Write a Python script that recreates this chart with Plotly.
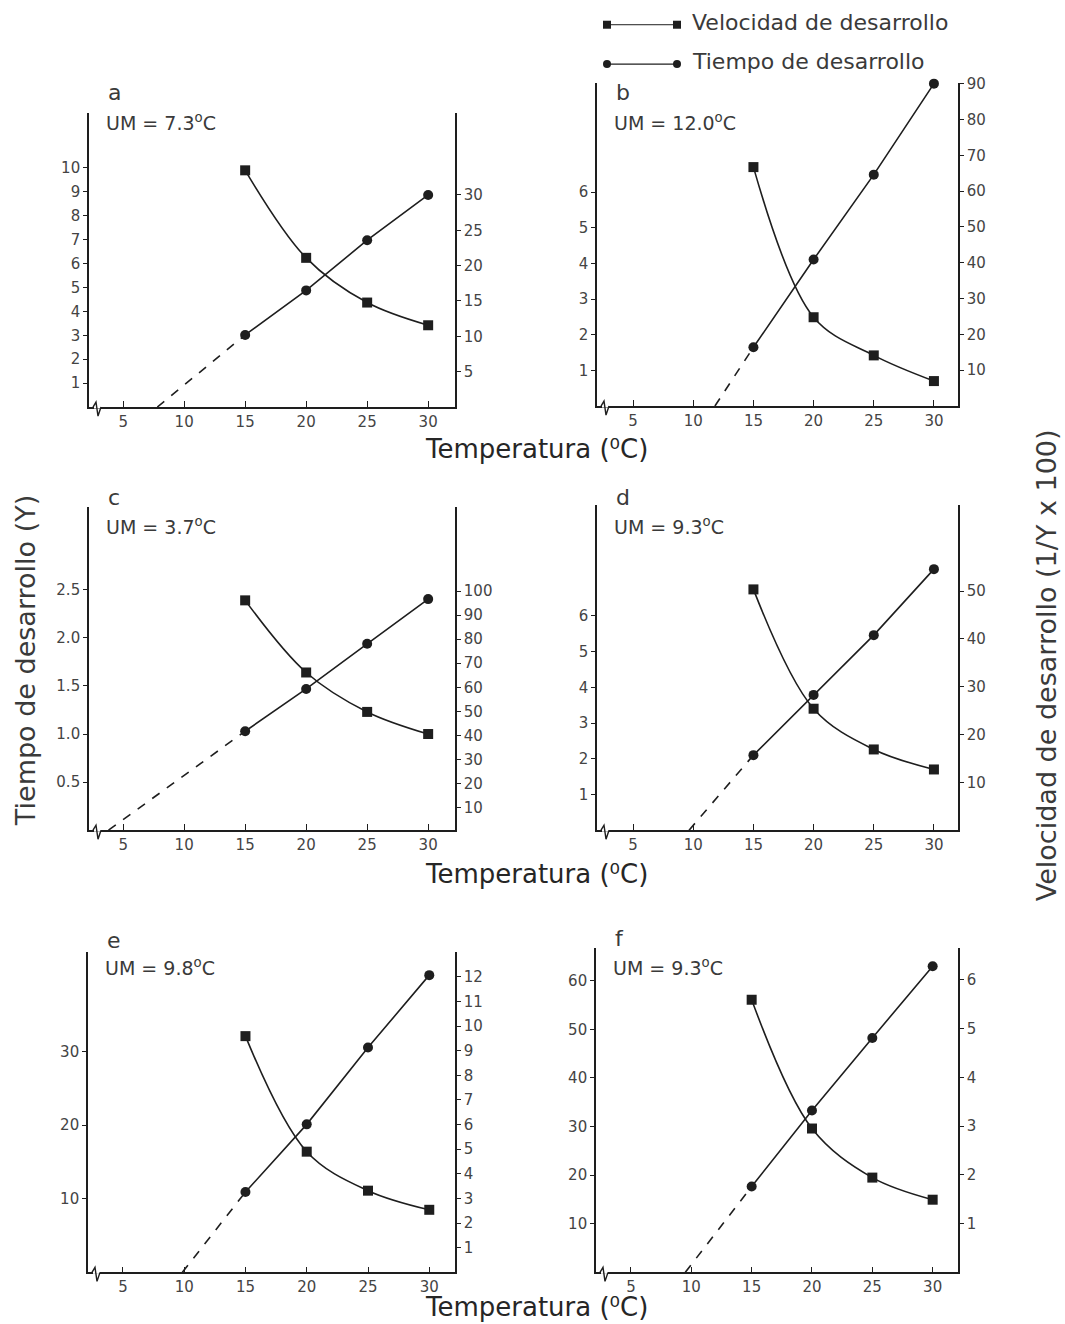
import plotly.graph_objects as go

W, H = 1065, 1324
# measured page transform: page_y = SY * fig_y + DY  (x maps 1:1)
SY, DY = 0.9936, 8.1

# ---- data ----
temperaturas = [15, 20, 25, 30]
paneles = ["a", "b", "c", "d", "e", "f"]
um_textos = ["7.3", "12.0", "3.7", "9.3", "9.8", "9.3"]
# where the dashed extrapolation meets the temperature axis
interceptos = [7.8, 11.8, 3.8, 9.65, 9.85, 9.5]

tiempo_a = [9.9, 6.24, 4.37, 3.42]
tiempo_b = [6.7, 2.49, 1.42, 0.70]
tiempo_c = [2.39, 1.64, 1.23, 1.0]
tiempo_d = [6.74, 3.40, 2.26, 1.70]
tiempo_e = [32.1, 16.4, 11.1, 8.5]
tiempo_f = [56.1, 29.6, 19.5, 14.95]

velocidad_a = [10.2, 16.5, 23.6, 30.0]
velocidad_b = [16.4, 40.9, 64.6, 90.0]
velocidad_c = [41.7, 59.3, 78.1, 96.7]
velocidad_d = [15.7, 28.3, 40.8, 54.6]
velocidad_e = [3.26, 6.01, 9.13, 12.07]
velocidad_f = [1.76, 3.32, 4.81, 6.28]

ticks_izq = [
    list(range(1, 11)),
    list(range(1, 7)),
    [0.5, 1.0, 1.5, 2.0, 2.5],
    list(range(1, 7)),
    [10, 20, 30],
    [10, 20, 30, 40, 50, 60],
]
ticks_der = [
    [5, 10, 15, 20, 25, 30],
    list(range(10, 100, 10)),
    list(range(10, 110, 10)),
    [10, 20, 30, 40, 50],
    list(range(1, 13)),
    [1, 2, 3, 4, 5, 6],
]
temp_ticks = [5, 10, 15, 20, 25, 30]

tiempos = [tiempo_a, tiempo_b, tiempo_c, tiempo_d, tiempo_e, tiempo_f]
velocidades = [velocidad_a, velocidad_b, velocidad_c, velocidad_d, velocidad_e, velocidad_f]

# ---- layout geometry (page pixels) ----
cajas = [  # left, right, top, bottom
    (89, 455, 113, 407),
    (597, 958, 83, 406),
    (89, 455, 507, 830),
    (597, 958, 505, 830),
    (88, 455, 952, 1272),
    (596, 958, 948, 1272),
]
letra_y = [93, 93, 497, 497, 940, 938]
um_y = [122, 122, 526, 526, 967, 967]
rango_x = [(2.2, 32.2), (2.0, 32.0), (2.2, 32.2), (2.0, 32.0), (2.15, 32.1), (2.1, 32.1)]
rango_izq = [(0, 12.3), (0, 9.06), (0, 3.36), (0, 9.1), (0, 43.5), (0, 66.7)]
rango_der = [(0, 41.6), (0, 90.2), (0.5, 135), (0, 68), (0, 13), (0, 6.65)]

INK = "#1e1e1e"
TXT = "#3a3a3a"
FONT = "DejaVu Sans"
TICKFONT = dict(size=15, color="#444444", family=FONT)


def px_x(v):
    return v / W


def px_y(v):
    return 1 - ((v - DY) / SY) / H


fig = go.Figure()
layout = {"annotations": [], "shapes": []}

for i in range(6):
    n = i + 1
    nr = i + 7
    l, r, t, b = cajas[i]
    xa = "x" if n == 1 else f"x{n}"
    ya = "y" if n == 1 else f"y{n}"
    yr = f"y{nr}"

    layout["xaxis" if n == 1 else f"xaxis{n}"] = dict(
        domain=[px_x(l), px_x(r)], range=list(rango_x[i]), anchor=ya,
        tickvals=temp_ticks, ticks="inside", ticklen=6, tickcolor=INK,
        showline=True, linecolor=INK, linewidth=1.6, showgrid=False, zeroline=False,
        tickfont=TICKFONT,
    )
    layout["yaxis" if n == 1 else f"yaxis{n}"] = dict(
        domain=[px_y(b), px_y(t)], range=list(rango_izq[i]), anchor=xa,
        tickvals=ticks_izq[i], ticks="outside", ticklen=4, tickcolor=INK,
        tickformat=".1f" if i == 2 else "d",
        showline=True, linecolor=INK, linewidth=1.6, showgrid=False, zeroline=False,
        tickfont=TICKFONT,
    )
    layout[f"yaxis{nr}"] = dict(
        domain=[px_y(b), px_y(t)], range=list(rango_der[i]), anchor=xa,
        overlaying=ya, side="right",
        tickvals=ticks_der[i], ticks="outside", ticklen=4, tickcolor=INK,
        showline=True, linecolor=INK, linewidth=1.6, showgrid=False, zeroline=False,
        tickfont=TICKFONT,
    )

    # time curve (squares) on left axis
    fig.add_trace(go.Scatter(
        x=temperaturas, y=tiempos[i], xaxis=xa, yaxis=ya, mode="lines+markers",
        line=dict(color=INK, width=1.6, shape="spline", smoothing=1.0),
        marker=dict(symbol="square", size=10, color=INK),
        cliponaxis=False, showlegend=False,
    ))
    # rate line (circles) on right axis
    fig.add_trace(go.Scatter(
        x=temperaturas, y=velocidades[i], xaxis=xa, yaxis=yr, mode="lines+markers",
        line=dict(color=INK, width=1.6),
        marker=dict(symbol="circle", size=10, color=INK),
        cliponaxis=False, showlegend=False,
    ))
    # dashed extrapolation to the threshold
    fig.add_trace(go.Scatter(
        x=[interceptos[i], temperaturas[0]], y=[rango_der[i][0], velocidades[i][0]],
        xaxis=xa, yaxis=yr, mode="lines",
        line=dict(color=INK, width=1.6, dash="dash"),
        cliponaxis=False, showlegend=False,
    ))

    # axis break mark near the origin (white gap, then the zigzag)
    layout["shapes"].append(dict(
        type="line", xref="paper", yref="paper", xsizemode="pixel", ysizemode="pixel",
        xanchor=px_x(l), yanchor=px_y(b), x0=5, x1=12, y0=0, y1=0,
        line=dict(color="white", width=3),
    ))
    layout["shapes"].append(dict(
        type="path", xref="paper", yref="paper", xsizemode="pixel", ysizemode="pixel",
        xanchor=px_x(l), yanchor=px_y(b),
        path="M 4 0 L 7 5 L 9 -9 L 12 0",
        line=dict(color=INK, width=1.4),
    ))

    # panel letter and UM label
    layout["annotations"].append(dict(
        x=px_x(l + 17), y=px_y(letra_y[i]), xref="paper", yref="paper",
        text=paneles[i], showarrow=False, xanchor="left", yanchor="middle",
        font=dict(size=22, color=TXT, family=FONT),
    ))
    layout["annotations"].append(dict(
        x=px_x(l + 15), y=px_y(um_y[i]), xref="paper", yref="paper",
        text=f"UM = {um_textos[i]}<sup>o</sup>C", showarrow=False,
        xanchor="left", yanchor="middle",
        font=dict(size=19, color=TXT, family=FONT),
    ))

# legend drawn on its own small hidden axis
layout["xaxis13"] = dict(domain=[px_x(600), px_x(684)], range=[-0.1, 1.1], visible=False, anchor="y13")
layout["yaxis13"] = dict(domain=[px_y(76), px_y(13)], range=[-0.3, 1.3], visible=False, anchor="x13")
leyenda_x = [0, 1]
fig.add_trace(go.Scatter(
    x=leyenda_x, y=[1, 1], xaxis="x13", yaxis="y13", mode="lines+markers",
    line=dict(color=INK, width=1), marker=dict(symbol="square", size=8, color=INK),
    cliponaxis=False, showlegend=False,
))
fig.add_trace(go.Scatter(
    x=leyenda_x, y=[0, 0], xaxis="x13", yaxis="y13", mode="lines+markers",
    line=dict(color=INK, width=1.4), marker=dict(symbol="circle", size=8, color=INK),
    cliponaxis=False, showlegend=False,
))
for texto, yy in [("Velocidad de desarrollo", 23), ("Tiempo de desarrollo", 62)]:
    layout["annotations"].append(dict(
        x=px_x(690), y=px_y(yy), xref="paper", yref="paper", text=texto,
        showarrow=False, xanchor="left", yanchor="middle",
        font=dict(size=22, color=TXT, family=FONT),
    ))

# shared axis titles (bottom of each text box)
for yy in [466, 891, 1324]:
    layout["annotations"].append(dict(
        x=px_x(536), y=px_y(yy), xref="paper", yref="paper",
        text="Temperatura (\u2070C)", showarrow=False,
        xanchor="center", yanchor="bottom",
        font=dict(size=26, color="#262626", family=FONT),
    ))
layout["annotations"].append(dict(
    x=px_x(25), y=px_y(661), xref="paper", yref="paper",
    text="Tiempo de desarrollo (Y)", textangle=-90, showarrow=False,
    xanchor="center", yanchor="middle",
    font=dict(size=27, color=TXT, family=FONT),
))
layout["annotations"].append(dict(
    x=px_x(1046), y=px_y(665), xref="paper", yref="paper",
    text="Velocidad de desarrollo (1/Y x 100)", textangle=-90, showarrow=False,
    xanchor="center", yanchor="middle",
    font=dict(size=27, color=TXT, family=FONT),
))

fig.update_layout(
    width=W, height=H,
    margin=dict(l=0, r=0, t=0, b=0),
    paper_bgcolor="white", plot_bgcolor="white",
    font=dict(family=FONT, color=TXT),
    showlegend=False,
    **layout,
)

# pin the figure to the top-left corner of the window (no body margin, no scrollbars)
pin = (
    "document.body.style.margin='0';"
    "document.documentElement.style.overflow='hidden';"
    "var g=document.getElementById('{plot_id}');"
    "g.style.position='fixed';g.style.left='0px';g.style.top='0px';"
)
fig.write_html("out.html", config={"displayModeBar": False}, post_script=pin)
